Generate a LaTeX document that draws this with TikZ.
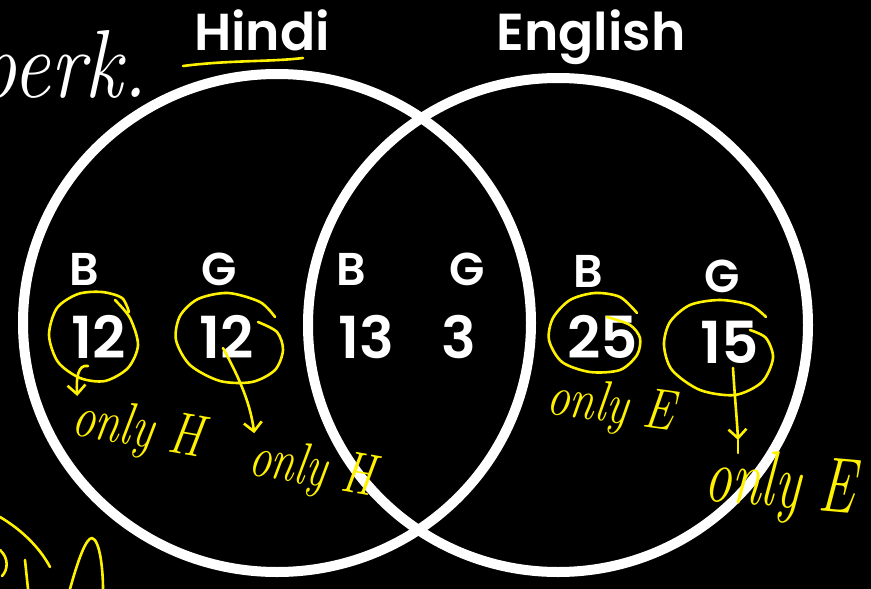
\documentclass[tikz,border=0pt]{standalone}
\usepackage{fontspec}
\newfontfamily\gothic{Poppins}[BoldFont={Poppins SemiBold}]
\usetikzlibrary{arrows.meta}

\begin{document}
\begin{tikzpicture}[x=1pt, y=-1pt,
  ring/.style = {draw=white, line width=10pt},
  title/.style = {text=white, font=\gothic\bfseries\fontsize{52}{52}\selectfont, inner sep=0pt, anchor=base},
  lbl/.style = {text=white, font=\gothic\bfseries\fontsize{46}{46}\selectfont, inner sep=0pt, anchor=base},
  num/.style = {text=white, font=\gothic\bfseries\fontsize{58}{58}\selectfont, inner sep=0pt, anchor=base},
  hand/.style = {draw=yellow, line width=2.6pt, line cap=round, line join=round},
  note/.style = {text=yellow, font=\itshape\fontsize{46}{46}\selectfont, inner sep=0pt, anchor=base west},
  tip/.style = {-{Straight Barb[length=9pt,width=18pt]}}
  ]
\fill[black] (0,0) rectangle (871,589);
\useasboundingbox (0,0) rectangle (871,589);

\draw[ring] (277,323) ellipse[x radius=254pt, y radius=249pt];
\draw[ring] (558,325) ellipse[x radius=250pt, y radius=247pt];

\node[title] (hindi) at (262,50) {Hindi};
\node[title] (english) at (591,50) {English};
\node[text=white, font=\itshape\fontsize{84}{84}\selectfont, inner sep=0pt, anchor=base east] (perk) at (148,97) {\scalebox{1}[1.15]{perk.}};

\node[lbl] (b1) at (84,285) {B};
\node[lbl] (g1) at (219,285) {G};
\node[lbl] (b2) at (351,285) {B};
\node[lbl] (g2) at (467,285) {G};
\node[lbl] (b3) at (588,287) {B};
\node[lbl] (g3) at (722,292) {G};

\node[num] (n1) at (99,358) {12};
\node[num] (n2) at (227,358) {12};
\node[num] (n3) at (366,358) {13};
\node[num] (n4) at (459,358) {3};
\node[num] (n5) at (603,358) {25};
\node[num] (n6) at (730,363) {15};

\draw[hand] (183,66) .. controls (230,60) and (270,62) .. (303,58);

\draw[hand] plot[smooth] coordinates {(115,300) (130,318) (138,345) (128,368) (105,381) (80,378) (58,362) (49,335) (57,308) (78,294) (102,292) (122,298) (129,312)};
\draw[hand] plot[smooth] coordinates {(275,317) (260,302) (228,293) (198,299) (180,316) (176,340) (190,365) (220,381) (252,382) (275,370) (283,350) (277,332) (258,322)};
\draw[hand] plot[smooth] coordinates {(637,313) (620,297) (595,293) (570,300) (553,318) (549,340) (562,362) (590,372) (620,370) (637,355) (640,338) (630,325) (607,317)};
\draw[hand] plot[smooth] coordinates {(766,317) (750,305) (720,300) (690,305) (670,322) (664,345) (672,370) (700,390) (735,395) (762,382) (773,358) (766,338) (750,330)};

\node[note, rotate=-10] (h1) at (70,434) {\scalebox{1}[1.3]{only H}};
\node[note, font=\itshape\fontsize{44}{44}\selectfont, rotate=-10] (h2) at (247,474) {\scalebox{1}[1.35]{only H}};
\node[note, rotate=-8] (e1) at (545,413) {\scalebox{1}[1.25]{only E}};
\node[note, font=\itshape\fontsize{54}{54}\selectfont, rotate=-5] (e2) at (703,500) {\scalebox{1}[1.45]{only E}};

\coordinate (c1) at (88,366);
\coordinate (c2) at (223,348);
\coordinate (c4) at (733,368);
\coordinate (a4) at (738,440);

\draw[hand,tip] (c1) .. controls (78,364) and (76,378) .. ([yshift=-3pt]h1.north west);
\draw[hand,tip] (c2) .. controls (236,372) and (250,400) .. ([yshift=0pt]h2.north west);
\draw[hand,tip] (c4) .. controls (735,400) and (737,420) .. (a4);
\draw[hand] (a4) -- (738,453);

\draw[hand] (0,517) .. controls (22,530) and (40,548) .. (50,567);
\draw[hand] (0,550) .. controls (9,558) and (8,570) .. (2,576);
\draw[hand] (25,560) -- (28,589);
\draw[hand] (70,589) .. controls (78,560) and (86,538) .. (92,538) .. controls (100,540) and (103,570) .. (103,589);
\end{tikzpicture}
\end{document}
